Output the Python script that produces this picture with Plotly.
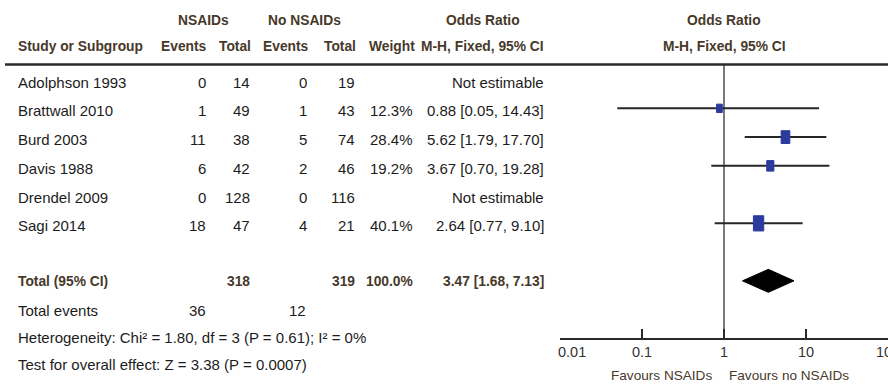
import math
import plotly.graph_objects as go

# ---- study data (NSAIDs vs no NSAIDs) ----
studies = ["Adolphson 1993", "Brattwall 2010", "Burd 2003", "Davis 1988", "Drendel 2009", "Sagi 2014"]
events_nsaid = [0, 1, 11, 6, 0, 18]
total_nsaid = [14, 49, 38, 42, 128, 47]
events_ctrl = [0, 1, 5, 2, 0, 4]
total_ctrl = [19, 43, 74, 46, 116, 21]
weight_pct = [None, 12.3, 28.4, 19.2, None, 40.1]
odds_ratio = [None, 0.88, 5.62, 3.67, None, 2.64]
ci_low = [None, 0.05, 1.79, 0.70, None, 0.77]
ci_high = [None, 14.43, 17.70, 19.28, None, 9.10]

pooled_or = 3.47
pooled_low = 1.68
pooled_high = 7.13
heterogeneity = "Heterogeneity: Chi\u00b2 = 1.80, df = 3 (P = 0.61); I\u00b2 = 0%"
overall_test = "Test for overall effect: Z = 3.38 (P = 0.0007)"

tick_vals = [0.01, 0.1, 1, 10, 100]
tick_text = ["\u00a0" * 6 + "0.01", "0.1", "1", "10", "100"]

# ---- layout constants ----
W, H = 888, 390
FONT = "Liberation Sans, Arial, sans-serif"
BODY = "#1c1c1c"
HEAD = "#47392a"
BLUE = "#2b3a9c"
BODY_SIZE = 15.0
HEAD_SIZE = 13.8

ROW0 = 79.6        # y of first study row (pixels from top)
STEP = 28.75       # row pitch
TEXT_DY = 2.5      # text sits slightly below the mark centre
AXIS_Y = 339       # y of the forest x-axis line
LINE_Y = 64.5      # header rule
PX_PER_DECADE = 82.0
FOREST_LEFT = 560

fig = go.Figure()


def px(x):
    return x / W


def add_text(text, x, y, anchor="left", bold=False, color=BODY, size=BODY_SIZE):
    fig.add_annotation(
        text=f"<b>{text}</b>" if bold else text,
        x=px(x), y=y, xref="paper", yref="y",
        xanchor=anchor, yanchor="middle", showarrow=False,
        font=dict(family=FONT, size=size, color=color),
    )


# ---- header ----
H1, H2 = 20, 46
add_text("NSAIDs", 203, H1, "center", True, HEAD, HEAD_SIZE)
add_text("No NSAIDs", 304, H1, "center", True, HEAD, HEAD_SIZE)
add_text("Odds Ratio", 483, H1, "center", True, HEAD, HEAD_SIZE)
add_text("Odds Ratio", 724, H1, "center", True, HEAD, HEAD_SIZE)
add_text("Study or Subgroup", 16, H2, "left", True, HEAD, HEAD_SIZE)
add_text("Events", 209, H2, "right", True, HEAD, HEAD_SIZE)
add_text("Total", 253, H2, "right", True, HEAD, HEAD_SIZE)
add_text("Events", 311, H2, "right", True, HEAD, HEAD_SIZE)
add_text("Total", 358, H2, "right", True, HEAD, HEAD_SIZE)
add_text("Weight", 417, H2, "right", True, HEAD, HEAD_SIZE)
add_text("M-H, Fixed, 95% CI", 546, H2, "right", True, HEAD, HEAD_SIZE)
add_text("M-H, Fixed, 95% CI", 724, H2, "center", True, HEAD, HEAD_SIZE)

fig.add_shape(type="line", xref="paper", yref="y", x0=px(5), x1=1.0, y0=LINE_Y, y1=LINE_Y,
              line=dict(color="#2a2a2a", width=2.5))

# ---- study rows ----
row_y = [ROW0 + i * STEP for i in range(len(studies))]
for i, name in enumerate(studies):
    ty = row_y[i] + TEXT_DY
    add_text(name, 16, ty)
    add_text(str(events_nsaid[i]), 208, ty, "right")
    add_text(str(total_nsaid[i]), 252, ty, "right")
    add_text(str(events_ctrl[i]), 309, ty, "right")
    add_text(str(total_ctrl[i]), 357, ty, "right")
    if odds_ratio[i] is None:
        add_text("Not estimable", 546, ty, "right")
    else:
        add_text(f"{weight_pct[i]:.1f}%", 415, ty, "right")
        add_text(f"{odds_ratio[i]:.2f} [{ci_low[i]:.2f}, {ci_high[i]:.2f}]", 546, ty, "right")

# ---- totals and footnotes ----
total_y = ROW0 + 7 * STEP
add_text("Total (95% CI)", 16, total_y + 1, bold=True, color=HEAD, size=HEAD_SIZE)
add_text(str(sum(total_nsaid)), 252, total_y + 1, "right", True, HEAD, HEAD_SIZE)
add_text(str(sum(total_ctrl)), 357, total_y + 1, "right", True, HEAD, HEAD_SIZE)
total_w = sum(w for w in weight_pct if w is not None)
add_text(f"{total_w:.1f}%", 415, total_y + 1, "right", True, HEAD, HEAD_SIZE)
add_text(f"{pooled_or:.2f} [{pooled_low:.2f}, {pooled_high:.2f}]", 546, total_y + 1, "right", True, HEAD, HEAD_SIZE)

add_text("Total events", 16, 310)
add_text(str(sum(events_nsaid)), 208, 310, "right")
add_text(str(sum(events_ctrl)), 308, 310, "right")
add_text(heterogeneity, 16, 337)
add_text(overall_test, 16, 364)

# ---- forest panel ----
# line of no effect
fig.add_trace(go.Scatter(x=[1, 1], y=[LINE_Y, AXIS_Y], mode="lines",
                         line=dict(color="#7a7a7a", width=2), hoverinfo="skip"))

for i in range(len(studies)):
    if odds_ratio[i] is None:
        continue
    y = row_y[i]
    fig.add_trace(go.Scatter(x=[ci_low[i], ci_high[i]], y=[y, y], mode="lines",
                             line=dict(color="#262626", width=2), hoverinfo="skip"))
    # box area proportional to study weight
    h = 2.4 * math.sqrt(weight_pct[i])
    half_w = 0.34 * h
    f = 10 ** (half_w / PX_PER_DECADE)
    xs = [odds_ratio[i] / f, odds_ratio[i] * f, odds_ratio[i] * f, odds_ratio[i] / f, odds_ratio[i] / f]
    ys = [y - h / 2, y - h / 2, y + h / 2, y + h / 2, y - h / 2]
    fig.add_trace(go.Scatter(x=xs, y=ys, mode="lines", fill="toself", fillcolor=BLUE,
                             line=dict(color=BLUE, width=1), hoverinfo="skip"))

# pooled estimate diamond
dh = 11.5
fig.add_trace(go.Scatter(
    x=[pooled_low, pooled_or, pooled_high, pooled_or, pooled_low],
    y=[total_y, total_y - dh, total_y, total_y + dh, total_y],
    mode="lines", fill="toself", fillcolor="#000000",
    line=dict(color="#000000", width=1), hoverinfo="skip"))

add_text("Favours NSAIDs", 714, 375, "right", color=HEAD, size=13.6)
add_text("Favours no NSAIDs", 727, 375, "left", color=HEAD, size=13.6)

fig.update_layout(
    width=W, height=H, autosize=False,
    margin=dict(l=0, r=0, t=0, b=0, pad=0, autoexpand=False),
    paper_bgcolor="white", plot_bgcolor="white",
    showlegend=False,
    xaxis=dict(
        type="log", range=[-2, 2], domain=[FOREST_LEFT / W, 1.0],
        anchor="free", position=(H - AXIS_Y) / H, automargin=False,
        showline=True, linecolor="#2a2a2a", linewidth=2,
        ticks="inside", ticklen=9, tickwidth=2, tickcolor="#2a2a2a",
        tickvals=tick_vals, ticktext=tick_text, ticklabeloverflow="allow",
        tickfont=dict(family=FONT, size=14.5, color="#333333"),
        showgrid=False, zeroline=False, fixedrange=True,
    ),
    yaxis=dict(range=[H, 0], domain=[0, 1], visible=False, fixedrange=True, automargin=False),
)

fig.write_html("out.html")
